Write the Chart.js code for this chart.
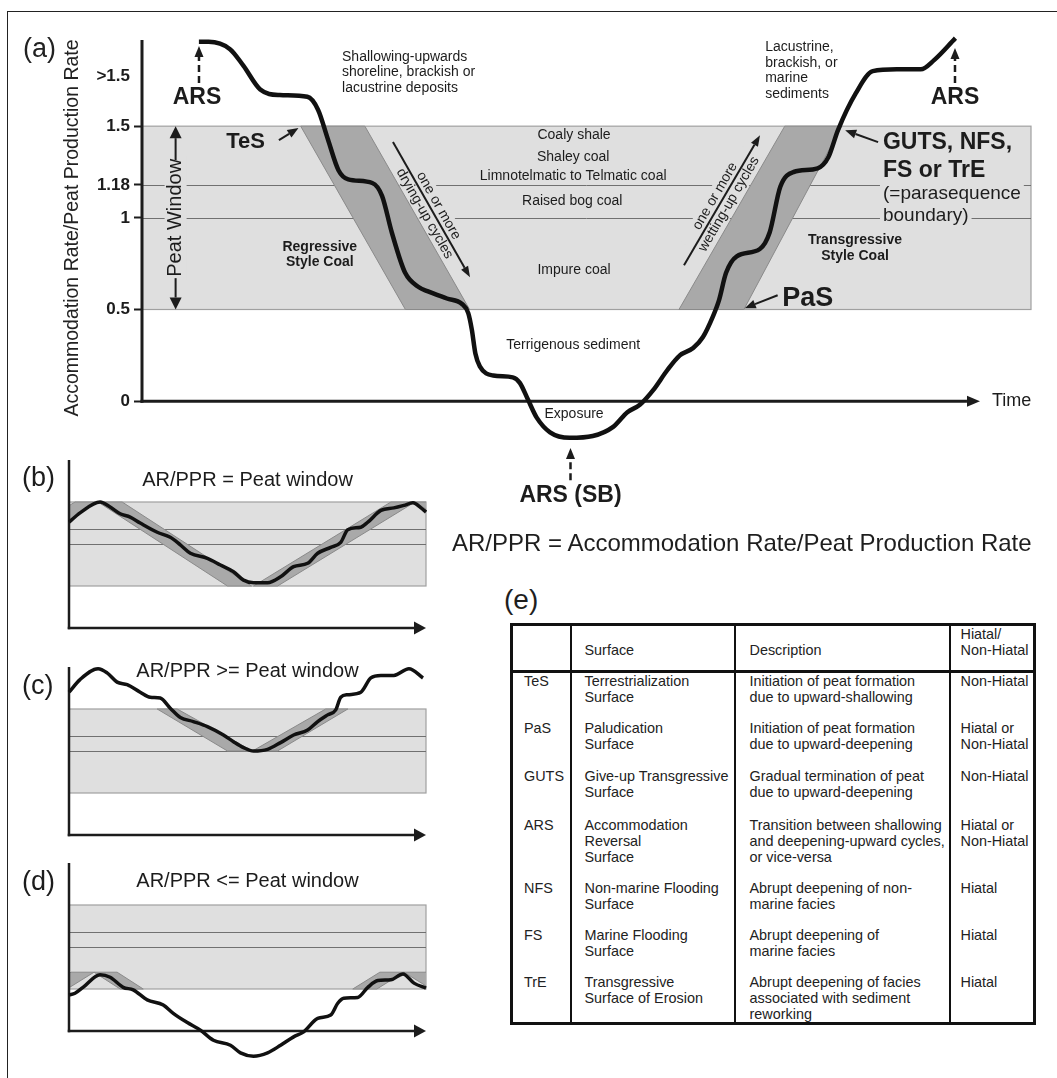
<!DOCTYPE html>
<html>
<head>
<meta charset="utf-8">
<title>Peat window and accommodation</title>
<script src="https://cdn.jsdelivr.net/npm/chart.js@4.4.1/dist/chart.umd.min.js"></script>
<style>
  body { margin: 0; background: #fff; }
  #page { position: relative; width: 1057px; height: 1078px; overflow: hidden;
          font-family: "Liberation Sans", Arial, sans-serif; color: #1e1e1e; }
  canvas { position: absolute; left: 0; }
  .frameTop { position: absolute; left: 7px; top: 11px; width: 1050px; border-top: 1.5px solid #222; }
  .frameLeft { position: absolute; left: 7px; top: 11px; height: 1067px; border-left: 1.5px solid #222; }
  #note { position: absolute; left: 452px; top: 529px; font-size: 24px; line-height: 28px; white-space: nowrap; }
  #tagE { position: absolute; left: 504px; top: 584px; font-size: 28px; line-height: 32px; }
  #surfaces { position: absolute; left: 510px; top: 623px; width: 523px; border-collapse: collapse;
              table-layout: fixed; border: 3px solid #111; font-size: 14.4px; line-height: 16px; color: #222; }
  #surfaces td { vertical-align: top; white-space: pre; padding: 0; overflow: visible;
                 border-left: 2.5px solid #111; border-right: 2.5px solid #111; }
  #surfaces tr.head td { vertical-align: bottom; padding-bottom: 12px; border-bottom: 3px solid #111; }
</style>
</head>
<body>
<div id="page">
  <div class="frameTop"></div>
  <div class="frameLeft"></div>
  <canvas id="chartA" width="1057" height="560" style="top:0px"></canvas>
  <canvas id="chartB" width="440" height="232" style="top:440px"></canvas>
  <canvas id="chartC" width="440" height="232" style="top:647px"></canvas>
  <canvas id="chartD" width="440" height="232" style="top:843px"></canvas>
  <div id="note">AR/PPR = Accommodation Rate/Peat Production Rate</div>
  <div id="tagE">(e)</div>
  <table id="surfaces"></table>
</div>
<script>
// ---- values ----
var peatWindow = [0.5, 1.5];
var coalBoundaries = [1.0, 1.18];
var yTickValues = [0, 0.5, 1, 1.18, 1.5, 1.77];
var yTickLabels = ['0', '0.5', '1', '1.18', '1.5', '>1.5'];

// panel (a) accommodation / peat production curve
var timeA = [6.4, 7.5, 9.9, 11.4, 13.3, 15.5, 18.6, 19.8, 20.9, 22.1, 23.2, 25.9, 27.0, 28.1, 29.6, 31.2,
             32.1, 34.3, 36.0, 36.7, 37.1, 37.5, 38.0, 39.5, 41.7, 42.5, 43.4, 44.4, 45.9, 48.1, 50.7, 53.0,
             54.6, 56.0, 57.5, 59.1, 60.5, 62.0, 63.1, 64.2, 64.9, 65.7, 66.9, 69.5, 70.6, 71.8, 73.3, 76.0,
             77.2, 78.3, 80.3, 82.2, 84.9, 87.6, 89.1, 91.5];
var ratioA = [1.96, 1.96, 1.92, 1.83, 1.70, 1.67, 1.66, 1.59, 1.43, 1.26, 1.21, 1.19, 1.12, 0.92, 0.70, 0.62,
              0.60, 0.56, 0.53, 0.48, 0.39, 0.26, 0.19, 0.14, 0.13, 0.10, 0.01, -0.09, -0.17, -0.20, -0.19, -0.14,
              -0.06, -0.02, 0.06, 0.17, 0.25, 0.29, 0.35, 0.46, 0.55, 0.70, 0.79, 0.83, 0.92, 1.17, 1.25, 1.27,
              1.33, 1.48, 1.68, 1.80, 1.81, 1.81, 1.86, 1.98];
// coal wedges: x at top-left, top-right, bottom-right, bottom-left
var wedgeLevelsA = [1.5, 0.5];
var wedgesA = [[17.85, 25.07, 36.85, 29.63], [72.3, 78.7, 67.7, 60.4]];

// panel (b) AR/PPR = peat window
var timeB = [0, 3.09, 8.71, 11.52, 14.33, 17.13, 19.94, 24.72, 28.37, 31.18, 33.99, 38.76, 42.42, 46.07, 48.88, 51.69,
             55.62, 59.27, 62.92, 66.85, 69.66, 73.31, 76.12, 78.09, 81.74, 83.71, 87.36, 91.01, 93.82, 96.35, 98.6, 100];
var ratioB = [1.26, 1.37, 1.50, 1.44, 1.36, 1.32, 1.25, 1.14, 1.08, 0.99, 0.89, 0.83, 0.75, 0.67, 0.57, 0.54,
              0.54, 0.61, 0.73, 0.77, 0.89, 0.96, 1.02, 1.17, 1.20, 1.26, 1.40, 1.43, 1.46, 1.49, 1.43, 1.38];
var wedgeLevelsB = [1.5, 0.5];
var wedgesB = [[1.69, 8.15, -30.3, -36.8], [8.15, 14.89, 51.12, 44.38], [90.17, 96.91, 58.43, 51.69], [96.91, 103.65, 139.9, 133.1]];

// panel (c) AR/PPR >= peat window
var timeC = [0, 3.09, 8.15, 10.67, 13.48, 16.29, 19.94, 22.75, 25.56, 28.37, 31.18, 34.83, 38.76, 43.26, 46.07, 48.88,
             51.69, 55.62, 59.27, 62.92, 66.85, 69.66, 72.47, 74.72, 76.12, 78.09, 81.74, 84.55, 87.36, 91.01, 95.22, 99.16];
var ratioC = [1.70, 1.85, 1.98, 1.93, 1.82, 1.79, 1.70, 1.64, 1.63, 1.51, 1.40, 1.35, 1.29, 1.19, 1.11, 1.04,
              1.00, 1.02, 1.10, 1.19, 1.25, 1.35, 1.43, 1.49, 1.64, 1.67, 1.70, 1.87, 1.90, 1.90, 1.98, 1.87];
var wedgeLevelsC = [1.5, 1.0];
var wedgesC = [[24.7, 30.3, 51.4, 44.4], [71.9, 78.1, 58.4, 51.4]];

// panel (d) AR/PPR <= peat window
var timeD = [0, 1.69, 3.93, 8.71, 11.52, 15.17, 17.98, 21.91, 26.4, 29.21, 33.15, 36.8, 40.45, 45.22, 48.03, 51.69,
             55.62, 59.27, 62.92, 65.73, 69.66, 73.31, 75.28, 76.97, 80.9, 83.71, 86.52, 90.17, 93.54, 96.63, 100];
var ratioD = [0.43, 0.45, 0.52, 0.67, 0.64, 0.52, 0.49, 0.37, 0.31, 0.21, 0.10, 0.01, -0.11, -0.17, -0.26, -0.30,
              -0.26, -0.17, -0.07, -0.01, 0.15, 0.19, 0.33, 0.39, 0.40, 0.52, 0.60, 0.61, 0.68, 0.57, 0.51];
var wedgeLevelsD = [0.7, 0.5];
var wedgesD = [[0.56, 7.02, -0.56, -7.0], [7.02, 13.48, 20.79, 14.33], [87.08, 93.82, 86.24, 79.49], [93.82, 100.56, 108.1, 101.4]];

// panel (e) table
var tableHeaders = ['', 'Surface', 'Description', 'Hiatal/\nNon-Hiatal'];
var surfaceCodes = ['TeS', 'PaS', 'GUTS', 'ARS', 'NFS', 'FS', 'TrE'];
var surfaceNames = ['Terrestrialization\nSurface', 'Paludication\nSurface', 'Give-up Transgressive\nSurface',
                    'Accommodation\nReversal\nSurface', 'Non-marine Flooding\nSurface', 'Marine Flooding\nSurface',
                    'Transgressive\nSurface of Erosion'];
var surfaceDescriptions = ['Initiation of peat formation\ndue to upward-shallowing',
                           'Initiation of peat formation\ndue to upward-deepening',
                           'Gradual termination of peat\ndue to upward-deepening',
                           'Transition between shallowing\nand deepening-upward cycles,\nor vice-versa',
                           'Abrupt deepening of non-\nmarine facies',
                           'Abrupt deepening of\nmarine facies',
                           'Abrupt deepening of facies\nassociated with sediment\nreworking'];
var hiatalTypes = ['Non-Hiatal', 'Hiatal or\nNon-Hiatal', 'Non-Hiatal', 'Hiatal or\nNon-Hiatal', 'Hiatal', 'Hiatal', 'Hiatal'];

// ---- drawing helpers ----
var FONT = '"Liberation Sans", Arial, sans-serif';
var INK = '#1c1c1c';
var BAND = '#dfdfdf';

function font(size, bold) { return (bold ? 'bold ' : '') + size + 'px ' + FONT; }

function toPx(chart, p) {
  return [chart.scales.x.getPixelForValue(p[0]), chart.scales.y.getPixelForValue(p[1])];
}

function arrow(ctx, x1, y1, x2, y2, o) {
  o = o || {};
  var head = o.head || 10, half = o.half || 4;
  var a = Math.atan2(y2 - y1, x2 - x1);
  var bx = x2 - head * Math.cos(a), by = y2 - head * Math.sin(a);
  ctx.save();
  ctx.strokeStyle = INK; ctx.fillStyle = INK;
  ctx.lineWidth = o.width || 2;
  if (o.dash) ctx.setLineDash(o.dash);
  ctx.beginPath(); ctx.moveTo(x1, y1); ctx.lineTo(bx, by); ctx.stroke();
  ctx.setLineDash([]);
  ctx.beginPath();
  ctx.moveTo(x2, y2);
  ctx.lineTo(bx + half * Math.sin(a), by - half * Math.cos(a));
  ctx.lineTo(bx - half * Math.sin(a), by + half * Math.cos(a));
  ctx.closePath(); ctx.fill();
  ctx.restore();
}

function writeNote(ctx, n, x, y) {
  ctx.font = font(n.size, n.bold);
  ctx.textAlign = n.align || 'center';
  ctx.textBaseline = 'middle';
  ctx.fillStyle = INK;
  n.lines.forEach(function(t, i) { ctx.fillText(t, x, y + i * (n.gap || 0)); });
}

function maskNote(ctx, n, x, y) {
  ctx.font = font(n.size, n.bold);
  var w = ctx.measureText(n.lines[0]).width;
  var left = n.align === 'left' ? x : x - w / 2;
  ctx.fillStyle = BAND;
  ctx.fillRect(left - 3, y - n.size / 2, w + 6, n.size);
}

function slantFrame(chart, ctx, s) {
  var t = toPx(chart, s.tail), h = toPx(chart, s.head);
  ctx.translate((t[0] + h[0]) / 2, (t[1] + h[1]) / 2);
  ctx.rotate(Math.atan2(h[1] - t[1], h[0] - t[0]));
}

// band, coal lines, wedges and axes, drawn under the curve
function zonePlugin(cfg) {
  return {
    id: 'zones',
    beforeDatasetsDraw: function(chart) {
      var ctx = chart.ctx, a = chart.chartArea, xs = chart.scales.x, ys = chart.scales.y;
      var yTop = ys.getPixelForValue(peatWindow[1]), yBot = ys.getPixelForValue(peatWindow[0]);
      ctx.save();
      ctx.fillStyle = BAND;
      ctx.fillRect(a.left, yTop, a.right - a.left, yBot - yTop);
      ctx.strokeStyle = '#a0a0a0'; ctx.lineWidth = 1.2;
      ctx.strokeRect(a.left, yTop, a.right - a.left, yBot - yTop);
      ctx.strokeStyle = '#707070'; ctx.lineWidth = 1;
      coalBoundaries.forEach(function(v) {
        var p = Math.round(ys.getPixelForValue(v)) + 0.5;
        ctx.beginPath(); ctx.moveTo(a.left, p); ctx.lineTo(a.right, p); ctx.stroke();
      });
      if (cfg.masks) cfg.masks(chart, ctx);
      ctx.beginPath(); ctx.rect(a.left, a.top, a.right - a.left, a.bottom - a.top); ctx.clip();
      var yt = ys.getPixelForValue(cfg.levels[0]), yb = ys.getPixelForValue(cfg.levels[1]);
      ctx.fillStyle = '#a9a9a9'; ctx.strokeStyle = '#8a8a8a'; ctx.lineWidth = 1;
      cfg.wedges.forEach(function(w) {
        ctx.beginPath();
        ctx.moveTo(xs.getPixelForValue(w[0]), yt);
        ctx.lineTo(xs.getPixelForValue(w[1]), yt);
        ctx.lineTo(xs.getPixelForValue(w[2]), yb);
        ctx.lineTo(xs.getPixelForValue(w[3]), yb);
        ctx.closePath(); ctx.fill(); ctx.stroke();
      });
      ctx.restore();
      // axes
      var x0 = xs.getPixelForValue(xs.min), y0 = ys.getPixelForValue(0);
      ctx.save();
      ctx.strokeStyle = INK; ctx.lineWidth = cfg.axisWidth;
      ctx.beginPath(); ctx.moveTo(x0, y0 + cfg.axisWidth / 2); ctx.lineTo(x0, ys.getPixelForValue(ys.max)); ctx.stroke();
      ctx.restore();
      arrow(ctx, x0 - cfg.axisWidth / 2, y0, xs.getPixelForValue(cfg.arrowEnd), y0,
            { width: cfg.axisWidth, head: cfg.arrowHead, half: cfg.arrowHalf });
    },
    afterDatasetsDraw: function(chart) {
      if (cfg.labels) cfg.labels(chart, chart.ctx);
    }
  };
}

// ---- panel (a) annotations ----
var notesA = [
  { lines: ['Shallowing-upwards', 'shoreline, brackish or', 'lacustrine deposits'], x: 22.5, y: 1.877, size: 14, align: 'left', gap: 15.5 },
  { lines: ['Lacustrine,', 'brackish, or', 'marine', 'sediments'], x: 70.1, y: 1.931, size: 14, align: 'left', gap: 15.7 },
  { lines: ['Coaly shale'], x: 48.6, y: 1.451, size: 14 },
  { lines: ['Shaley coal'], x: 48.5, y: 1.331, size: 14 },
  { lines: ['Limnotelmatic to Telmatic coal'], x: 48.5, y: 1.227, size: 14 },
  { lines: ['Raised bog coal'], x: 48.4, y: 1.09, size: 14 },
  { lines: ['Impure coal'], x: 48.6, y: 0.715, size: 14 },
  { lines: ['Terrigenous sediment'], x: 48.5, y: 0.306, size: 14 },
  { lines: ['Exposure'], x: 48.6, y: -0.071, size: 14 },
  { lines: ['Regressive', 'Style Coal'], x: 20.0, y: 0.84, size: 14, bold: true, gap: 15 },
  { lines: ['Transgressive', 'Style Coal'], x: 80.2, y: 0.878, size: 14, bold: true, gap: 16 },
  { lines: ['ARS'], x: 6.19, y: 1.653, size: 23, bold: true },
  { lines: ['ARS'], x: 91.45, y: 1.653, size: 23, bold: true },
  { lines: ['TeS'], x: 11.65, y: 1.413, size: 22, bold: true },
  { lines: ['PaS'], x: 74.9, y: 0.562, size: 27, bold: true },
  { lines: ['GUTS, NFS,', 'FS or TrE'], x: 83.35, y: 1.408, size: 23, bold: true, align: 'left', gap: 28 },
  { lines: ['(=parasequence'], x: 83.35, y: 1.129, size: 19, align: 'left', mask: true },
  { lines: ['boundary)'], x: 83.35, y: 1.009, size: 19, align: 'left', mask: true },
  { lines: ['Time'], x: 95.6, y: 0.0, size: 18, align: 'left' },
  { lines: ['ARS (SB)'], x: 48.2, y: -0.518, size: 23, bold: true }
];
var slantNotesA = [
  { lines: ['one or more', 'drying-up cycles'], tail: [28.23, 1.413], head: [36.9, 0.676] },
  { lines: ['one or more', 'wetting-up cycles'], tail: [60.97, 0.742], head: [69.52, 1.451] }
];
var arrowsA = [
  { tail: [15.4, 1.424], head: [17.6, 1.49] },
  { tail: [82.8, 1.413], head: [79.1, 1.478] },
  { tail: [71.5, 0.578], head: [67.8, 0.507] },
  { tail: [6.41, 1.735], head: [6.41, 1.937], dash: [7, 4], width: 2.5 },
  { tail: [91.45, 1.735], head: [91.45, 1.926], dash: [7, 4], width: 2.5 },
  { tail: [48.2, -0.431], head: [48.2, -0.256], dash: [7, 4], width: 2.5 },
  { tail: [3.78, 1.315], head: [3.78, 1.5], head2: true },
  { tail: [3.78, 0.671], head: [3.78, 0.5], head2: true }
];
var peatLabel = { text: 'Peat Window', x: 3.78, y: 1.0, size: 20 };

function masksA(chart, ctx) {
  ctx.save();
  notesA.forEach(function(n) {
    if (!n.mask) return;
    var p = toPx(chart, [n.x, n.y]);
    maskNote(ctx, n, p[0], p[1]);
  });
  var pw = toPx(chart, [peatLabel.x, peatLabel.y]);
  ctx.font = font(peatLabel.size);
  var w = ctx.measureText(peatLabel.text).width;
  ctx.fillStyle = BAND;
  ctx.fillRect(pw[0] - 11, pw[1] - w / 2 - 3, 22, w + 6);
  slantNotesA.forEach(function(s) {
    ctx.save();
    slantFrame(chart, ctx, s);
    ctx.font = font(14);
    var tw = Math.max(ctx.measureText(s.lines[0]).width, ctx.measureText(s.lines[1]).width);
    ctx.fillStyle = BAND;
    ctx.fillRect(-tw / 2 - 3, -16, tw + 6, 32);
    ctx.restore();
  });
  ctx.restore();
}

function labelsA(chart, ctx) {
  ctx.save();
  notesA.forEach(function(n) {
    var p = toPx(chart, [n.x, n.y]);
    writeNote(ctx, n, p[0], p[1]);
  });
  slantNotesA.forEach(function(s) {
    ctx.save();
    slantFrame(chart, ctx, s);
    ctx.font = font(14); ctx.fillStyle = INK;
    ctx.textAlign = 'center'; ctx.textBaseline = 'middle';
    ctx.fillText(s.lines[0], 0, -8);
    ctx.fillText(s.lines[1], 0, 8);
    ctx.restore();
    var t = toPx(chart, s.tail), h = toPx(chart, s.head);
    arrow(ctx, t[0], t[1], h[0], h[1], { width: 2, head: 11, half: 4 });
  });
  arrowsA.forEach(function(r) {
    var t = toPx(chart, r.tail), h = toPx(chart, r.head);
    arrow(ctx, t[0], t[1], h[0], h[1], r.head2 ? { width: 2, head: 12, half: 6 } : { width: r.width || 2, head: 11, half: 4.5, dash: r.dash });
  });
  var pw = toPx(chart, [peatLabel.x, peatLabel.y]);
  ctx.save();
  ctx.translate(pw[0], pw[1]); ctx.rotate(-Math.PI / 2);
  ctx.font = font(peatLabel.size); ctx.fillStyle = INK;
  ctx.textAlign = 'center'; ctx.textBaseline = 'middle';
  ctx.fillText(peatLabel.text, 0, 0);
  ctx.restore();
  // axis title and panel tag
  ctx.save();
  ctx.translate(73, 228); ctx.rotate(-Math.PI / 2);
  ctx.font = font(19.5); ctx.fillStyle = '#222';
  ctx.textAlign = 'center'; ctx.textBaseline = 'middle';
  ctx.fillText('Accommodation Rate/Peat Production Rate', 0, 0);
  ctx.restore();
  ctx.font = font(27); ctx.fillStyle = '#222';
  ctx.textAlign = 'left'; ctx.textBaseline = 'middle';
  ctx.fillText('(a)', 23, 50);
  ctx.restore();
}

new Chart(document.getElementById('chartA').getContext('2d'), {
  type: 'line',
  data: {
    datasets: [{
      data: timeA.map(function(t, i) { return { x: t, y: ratioA[i] }; }),
      borderColor: '#111', borderWidth: 4.5, pointRadius: 0,
      cubicInterpolationMode: 'monotone', clip: false
    }]
  },
  options: {
    responsive: false, animation: false, events: [],
    layout: { padding: { left: 0, top: 40, right: 26, bottom: 113 } },
    plugins: { legend: { display: false }, tooltip: { enabled: false } },
    scales: {
      x: { type: 'linear', min: 0, max: 100, display: false },
      y: {
        type: 'linear', min: -0.25, max: 1.97,
        afterBuildTicks: function(s) { s.ticks = yTickValues.map(function(v) { return { value: v }; }); },
        afterFit: function(s) { s.width = 142; },
        ticks: {
          padding: 4, color: INK,
          font: { family: FONT, size: 17, weight: 'bold' },
          callback: function(v) { return yTickLabels[yTickValues.indexOf(v)]; }
        },
        grid: {
          drawOnChartArea: false, tickLength: 8, tickWidth: 2,
          tickColor: function(c) { return c.tick && c.tick.value === 1.77 ? 'rgba(0,0,0,0)' : INK; }
        },
        border: { display: false }
      }
    }
  },
  plugins: [zonePlugin({ levels: wedgeLevelsA, wedges: wedgesA, masks: masksA, labels: labelsA,
                         axisWidth: 3, arrowEnd: 94.26, arrowHead: 13, arrowHalf: 5.5 })]
});

// ---- panels (b), (c), (d) ----
function smallPanel(id, times, ratios, levels, wedges, title, titleY, tag, tagY) {
  new Chart(document.getElementById(id).getContext('2d'), {
    type: 'line',
    data: {
      datasets: [{
        data: times.map(function(t, i) { return { x: t, y: ratios[i] }; }),
        borderColor: '#111', borderWidth: 3.5, pointRadius: 0,
        cubicInterpolationMode: 'monotone', clip: false
      }]
    },
    options: {
      responsive: false, animation: false, events: [],
      layout: { padding: { left: 69, top: 20, right: 14, bottom: 10.4 } },
      plugins: { legend: { display: false }, tooltip: { enabled: false } },
      scales: {
        x: { type: 'linear', min: 0, max: 100, display: false },
        y: { type: 'linear', min: -0.4, max: 2.0, display: false }
      }
    },
    plugins: [zonePlugin({
      levels: levels, wedges: wedges, axisWidth: 2.5, arrowEnd: 100, arrowHead: 12, arrowHalf: 6.5,
      labels: function(chart, ctx) {
        var p = toPx(chart, [50, titleY]);
        ctx.save();
        ctx.fillStyle = INK; ctx.textBaseline = 'middle';
        ctx.font = font(20); ctx.textAlign = 'center';
        ctx.fillText(title, p[0], p[1]);
        ctx.font = font(27); ctx.textAlign = 'left';
        ctx.fillText(tag, 22, chart.scales.y.getPixelForValue(tagY));
        ctx.restore();
      }
    })]
  });
}

smallPanel('chartB', timeB, ratioB, wedgeLevelsB, wedgesB, 'AR/PPR = Peat window', 1.762, '(b)', 1.774);
smallPanel('chartC', timeC, ratioC, wedgeLevelsC, wedgesC, 'AR/PPR >= Peat window', 1.952, '(c)', 1.762);
smallPanel('chartD', timeD, ratioD, wedgeLevelsD, wedgesD, 'AR/PPR <= Peat window', 1.774, '(d)', 1.762);

// ---- panel (e) table ----
var colWidths = [59, 164, 215, 85];
var colPads = [11, 13, 14, 10];
var rowHeights = [45, 48, 48, 49, 63, 47, 47, 50];
var table = document.getElementById('surfaces');
var colgroup = document.createElement('colgroup');
colWidths.forEach(function(w) {
  var c = document.createElement('col'); c.style.width = w + 'px'; colgroup.appendChild(c);
});
table.appendChild(colgroup);
function addRow(cells, cls, h) {
  var tr = document.createElement('tr');
  if (cls) tr.className = cls;
  tr.style.height = h + 'px';
  cells.forEach(function(txt, i) {
    var td = document.createElement('td');
    td.textContent = txt;
    td.style.paddingLeft = colPads[i] + 'px';
    tr.appendChild(td);
  });
  table.appendChild(tr);
}
addRow(tableHeaders, 'head', rowHeights[0]);
surfaceCodes.forEach(function(code, i) {
  addRow([code, surfaceNames[i], surfaceDescriptions[i], hiatalTypes[i]], '', rowHeights[i + 1]);
});
</script>
</body>
</html>
